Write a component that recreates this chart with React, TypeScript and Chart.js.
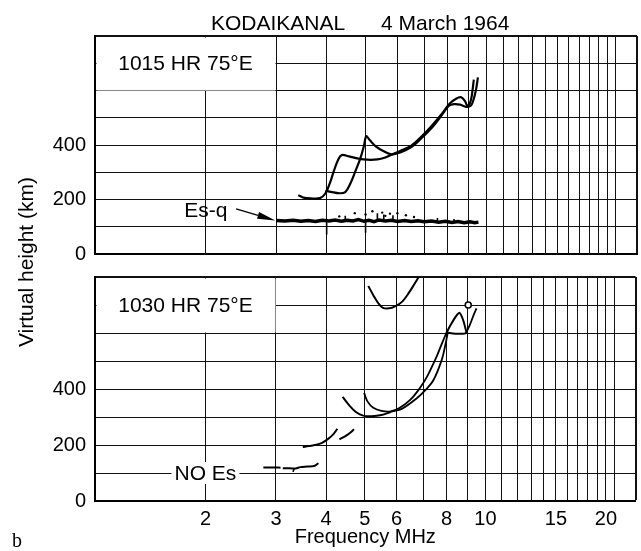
import React, { useEffect, useRef } from "react";
import { Chart, registerables } from "chart.js";

Chart.register(...registerables);

const SANS = '"Liberation Sans", Arial, Helvetica, sans-serif';
const SERIF = '"Liberation Serif", "Times New Roman", serif';

// ---- axes ----
const freqMin = 1.06;
const freqMax = 23.7;
const freqGridLines = [2, 3, 4, 5, 6, 7, 8, 9, 10, 11, 12, 13, 14, 15, 16, 17, 18, 19, 20, 21];
const freqTickLabels = [2, 3, 4, 5, 6, 8, 10, 15, 20];
const heightGridLines = [0, 100, 200, 300, 400, 500, 600, 700, 800];
const heightTickLabels = [0, 200, 400];

// ---- panel 1 : 1015 HR 75°E ----
const topEsqTrace = [
  [3.0, 123], [3.15, 121], [3.3, 124], [3.45, 120], [3.6, 123], [3.75, 119], [3.9, 124],
  [4.05, 121], [4.2, 125], [4.35, 120], [4.5, 124], [4.65, 121], [4.8, 126], [4.95, 120],
  [5.1, 124], [5.25, 119], [5.4, 125], [5.6, 121], [5.8, 124], [6.0, 119], [6.25, 123],
  [6.5, 119], [6.75, 122], [7.0, 118], [7.3, 121], [7.6, 117], [7.9, 120], [8.2, 116],
  [8.5, 119], [8.8, 115], [9.1, 118], [9.35, 115], [9.55, 117],
];
const topEsqSpikes = [
  [4.0, 128], [4.0, 72], [4.0, null],
  [5.0, 128], [5.0, 78], [5.0, null],
  [4.45, 122], [4.45, 140], [4.45, null],
  [5.35, 122], [5.35, 150], [5.35, null],
  [5.55, 122], [5.55, 145], [5.55, null],
  [5.85, 122], [5.85, 142], [5.85, null],
  [7.55, 118], [7.55, 132], [7.55, null],
  [8.3, 117], [8.3, 128],
];
const topEsqDots = [
  [4.3, 138], [4.7, 150], [5.0, 145], [5.2, 157], [5.5, 152], [5.6, 140],
  [5.75, 148], [6.0, 150], [6.3, 142], [6.6, 136],
];
const topTraceA = [
  [3.4, 216], [3.5, 207], [3.65, 204], [3.85, 205], [3.97, 222], [4.07, 258], [4.17, 305],
  [4.27, 345], [4.36, 363], [4.55, 358], [4.8, 350], [5.05, 346], [5.35, 347], [5.6, 354],
  [5.8, 364], [6.1, 378], [6.5, 398], [6.9, 432], [7.3, 470], [7.7, 510], [8.1, 552],
  [8.4, 570], [8.65, 575], [8.85, 560], [8.95, 545], [9.1, 555], [9.2, 585], [9.3, 640],
];
const topTraceB = [
  [3.97, 232], [4.1, 228], [4.3, 223], [4.45, 227], [4.58, 258], [4.72, 305], [4.85, 350],
  [4.95, 395], [5.02, 432], [5.12, 418], [5.3, 395], [5.55, 377], [5.8, 366], [6.1, 373],
  [6.5, 392], [6.9, 426], [7.3, 462], [7.7, 505], [8.05, 543], [8.3, 550], [8.6, 548],
  [8.9, 540], [9.15, 545], [9.3, 570], [9.42, 604], [9.52, 648],
];

// ---- panel 2 : 1030 HR 75°E ----
const botNoEsA = [[2.79, 120], [2.95, 120], [3.08, 119]];
const botNoEsB = [[3.12, 117], [3.25, 117], [3.36, 116], [3.45, 121], [3.6, 123], [3.75, 126], [3.83, 135]];
const botNoEsHook = [[3.33, 117], [3.31, 104]];
const botLowA = [[3.5, 193], [3.62, 196], [3.75, 200], [3.9, 207], [4.05, 222], [4.18, 240], [4.27, 258]];
const botLowB = [[4.32, 220], [4.45, 230], [4.58, 242], [4.7, 256]];
const botF1 = [[4.4, 372], [4.55, 345], [4.75, 318], [4.95, 305], [5.2, 303], [5.5, 307], [5.8, 318]];
const botF2 = [
  [4.98, 386], [5.08, 355], [5.25, 333], [5.5, 322], [5.8, 320], [6.1, 332], [6.5, 362],
  [6.85, 402], [7.15, 444], [7.55, 515], [7.8, 565], [8.0, 602],
];
const botF3 = [
  [5.8, 318], [6.2, 330], [6.74, 367], [7.1, 398], [7.42, 432], [7.78, 504], [7.95, 560], [8.05, 600],
];
const botLoop = [
  [8.0, 602], [8.2, 630], [8.45, 660], [8.62, 672], [8.78, 650], [8.92, 615], [8.95, 600],
  [8.6, 597], [8.3, 598], [8.0, 602],
];
const botRight = [[8.95, 600], [9.15, 630], [9.35, 665], [9.5, 688]];
const botCircle = [[9.06, 700]];
const bot2F = [
  [5.1, 768], [5.25, 735], [5.4, 707], [5.55, 690], [5.75, 688], [5.95, 695], [6.2, 712],
  [6.45, 745], [6.65, 775], [6.85, 805],
];

// ---- annotations (data coordinates) ----
const boxEdgeFreq = 3;
const boxEdgeHeight = 600;
const esqLabel = { text: "Es-q", freq: 2, height: 158 };
const esqArrow = { from: [2.38, 166], to: [2.98, 123] };
const noEsLabel = { text: "NO Es", freq: 2, height: 100 };

const pts = (a: (number | null)[][]) => a.map(([x, y]) => ({ x: x as number, y: y as any }));

const line = (a: (number | null)[][], width = 2, tension = 0.35) => ({
  data: pts(a),
  showLine: true,
  borderColor: "#000",
  backgroundColor: "#000",
  borderWidth: width,
  pointRadius: 0,
  tension,
  fill: false,
  spanGaps: false,
});

const dots = (a: number[][], r = 1.2) => ({
  data: pts(a),
  showLine: false,
  pointRadius: r,
  borderWidth: 0,
  backgroundColor: "#000",
  borderColor: "#000",
});

function buildOptions(isBottom: boolean) {
  return {
    responsive: false,
    maintainAspectRatio: false,
    animation: false,
    events: [],
    layout: { padding: { top: isBottom ? 15 : 36, right: 4, left: 0, bottom: 0 } },
    plugins: { legend: { display: false }, tooltip: { enabled: false }, title: { display: false } },
    scales: {
      x: {
        type: "logarithmic",
        min: freqMin,
        max: freqMax,
        afterBuildTicks: (s: any) => {
          s.ticks = [...freqGridLines, freqMax].map((v) => ({ value: v }));
        },
        afterFit: (s: any) => {
          s.height = isBottom ? 50 : 8;
          s.paddingLeft = 0;
          s.paddingRight = 0;
          s.paddingTop = 0;
          s.paddingBottom = 0;
        },
        grid: {
          color: "#111",
          lineWidth: (c: any) => (c.tick && c.tick.value === freqMax ? 2 : 1),
          drawTicks: false,
        },
        border: { color: "#000", width: 2 },
        ticks: {
          display: isBottom,
          autoSkip: false,
          maxRotation: 0,
          minRotation: 0,
          padding: 6,
          color: "#000",
          font: { family: SANS, size: 20 },
          callback: (v: any) => (freqTickLabels.includes(Number(v)) ? String(v) : ""),
        },
        title: {
          display: isBottom,
          text: "Frequency MHz",
          color: "#000",
          font: { family: SANS, size: 20 },
          padding: { top: 0, bottom: 2 },
        },
      },
      y: {
        type: "linear",
        min: 0,
        max: 800,
        afterBuildTicks: (s: any) => {
          s.ticks = heightGridLines.map((v) => ({ value: v }));
        },
        afterFit: (s: any) => {
          s.width = 95;
          s.paddingTop = 0;
          s.paddingBottom = 0;
          s.paddingLeft = 0;
          s.paddingRight = 0;
        },
        grid: {
          color: "#111",
          lineWidth: (c: any) => (c.tick && c.tick.value === 800 ? 2 : 1),
          drawTicks: false,
        },
        border: { color: "#000", width: 2 },
        ticks: {
          padding: 9,
          color: "#000",
          font: { family: SANS, size: 20 },
          callback: (v: any) => (heightTickLabels.includes(Number(v)) ? String(v) : ""),
        },
      },
    },
  };
}

function drawBox(chart: any, label: string) {
  const { ctx, chartArea, scales } = chart;
  const xr = Math.round(scales.x.getPixelForValue(boxEdgeFreq));
  const yb = Math.round(scales.y.getPixelForValue(boxEdgeHeight));
  ctx.save();
  ctx.fillStyle = "#fff";
  ctx.fillRect(chartArea.left + 1.5, chartArea.top + 1.5, xr - chartArea.left - 2, yb - chartArea.top - 2);
  ctx.fillStyle = "#000";
  ctx.font = `21px ${SANS}`;
  ctx.textAlign = "center";
  ctx.textBaseline = "middle";
  ctx.fillText(label, (chartArea.left + xr) / 2, (chartArea.top + yb) / 2 + 1);
  ctx.restore();
}

const topDecor = {
  id: "topDecor",
  beforeDatasetsDraw(chart: any) {
    drawBox(chart, "1015 HR 75°E");
    const { ctx, scales } = chart;
    const X = (f: number) => scales.x.getPixelForValue(f);
    const Y = (h: number) => scales.y.getPixelForValue(h);
    ctx.save();
    ctx.fillStyle = "#000";
    ctx.strokeStyle = "#000";
    ctx.font = `21px ${SANS}`;
    ctx.textAlign = "center";
    ctx.textBaseline = "middle";
    ctx.fillText(esqLabel.text, X(esqLabel.freq), Y(esqLabel.height));
    const x0 = X(esqArrow.from[0]);
    const y0 = Y(esqArrow.from[1]);
    const x1 = X(esqArrow.to[0]);
    const y1 = Y(esqArrow.to[1]);
    const ang = Math.atan2(y1 - y0, x1 - x0);
    const hl = 18;
    const hw = 3.5;
    const bx = x1 - hl * Math.cos(ang);
    const by = y1 - hl * Math.sin(ang);
    ctx.lineWidth = 1.3;
    ctx.beginPath();
    ctx.moveTo(x0, y0);
    ctx.lineTo(bx, by);
    ctx.stroke();
    ctx.beginPath();
    ctx.moveTo(x1, y1);
    ctx.lineTo(bx - hw * Math.sin(ang), by + hw * Math.cos(ang));
    ctx.lineTo(bx + hw * Math.sin(ang), by - hw * Math.cos(ang));
    ctx.closePath();
    ctx.fill();
    ctx.restore();
  },
};

const botDecor = {
  id: "botDecor",
  beforeDatasetsDraw(chart: any) {
    drawBox(chart, "1030 HR 75°E");
    const { ctx, scales } = chart;
    const cx = scales.x.getPixelForValue(noEsLabel.freq);
    const cy = scales.y.getPixelForValue(noEsLabel.height);
    ctx.save();
    ctx.font = `21px ${SANS}`;
    const w = ctx.measureText(noEsLabel.text).width;
    ctx.fillStyle = "#fff";
    ctx.fillRect(cx - w / 2 - 3, cy - 11, w + 6, 22);
    ctx.fillStyle = "#000";
    ctx.textAlign = "center";
    ctx.textBaseline = "middle";
    ctx.fillText(noEsLabel.text, cx, cy + 1);
    ctx.restore();
  },
};

const topDatasets = () => [
  line(topEsqTrace, 3.5, 0),
  line(topEsqSpikes, 1.6, 0),
  dots(topEsqDots),
  line(topTraceA, 2.2),
  line(topTraceB, 2.2),
];

const botDatasets = () => [
  line(botNoEsA, 2, 0.2),
  line(botNoEsB, 2, 0.3),
  line(botNoEsHook, 1.6, 0),
  line(botLowA, 2),
  line(botLowB, 2),
  line(botF1, 2),
  line(botF2, 1.8),
  line(botF3, 1.8),
  line(botLoop, 2, 0.25),
  line(botRight, 1.8),
  line(bot2F, 2),
  {
    data: pts(botCircle),
    showLine: false,
    pointRadius: 3,
    borderWidth: 1.5,
    borderColor: "#000",
    backgroundColor: "#fff",
  },
];

function Panel(props: { top: number; height: number; isBottom: boolean }) {
  const ref = useRef<HTMLCanvasElement | null>(null);
  useEffect(() => {
    const chart = new Chart(ref.current as HTMLCanvasElement, {
      type: "scatter",
      data: { datasets: (props.isBottom ? botDatasets() : topDatasets()) as any },
      options: buildOptions(props.isBottom) as any,
      plugins: [props.isBottom ? botDecor : topDecor] as any,
    });
    return () => chart.destroy();
  }, []);
  return (
    <canvas
      ref={ref}
      width={641}
      height={props.height}
      style={{ position: "absolute", left: 0, top: props.top, width: 641, height: props.height }}
    />
  );
}

export default function App() {
  const txt: React.CSSProperties = {
    position: "absolute",
    fontFamily: SANS,
    fontSize: 21,
    lineHeight: "24px",
    color: "#000",
    whiteSpace: "nowrap",
  };
  return (
    <div style={{ position: "absolute", left: 0, top: 0, width: 641, height: 551, background: "#fff", overflow: "hidden" }}>
      <Panel top={0} height={262} isBottom={false} />
      <Panel top={262} height={289} isBottom={true} />
      <span style={{ ...txt, left: 211, top: 11 }}>KODAIKANAL</span>
      <span style={{ ...txt, left: 381, top: 11 }}>4 March 1964</span>
      <div
        style={{
          ...txt,
          left: 26 - 130,
          top: 262 - 12,
          width: 260,
          height: 24,
          textAlign: "center",
          transform: "rotate(-90deg)",
        }}
      >
        Virtual height (km)
      </div>
      <span style={{ position: "absolute", left: 12, top: 530, fontFamily: SERIF, fontSize: 20, lineHeight: "20px", color: "#000" }}>
        b
      </span>
    </div>
  );
}
